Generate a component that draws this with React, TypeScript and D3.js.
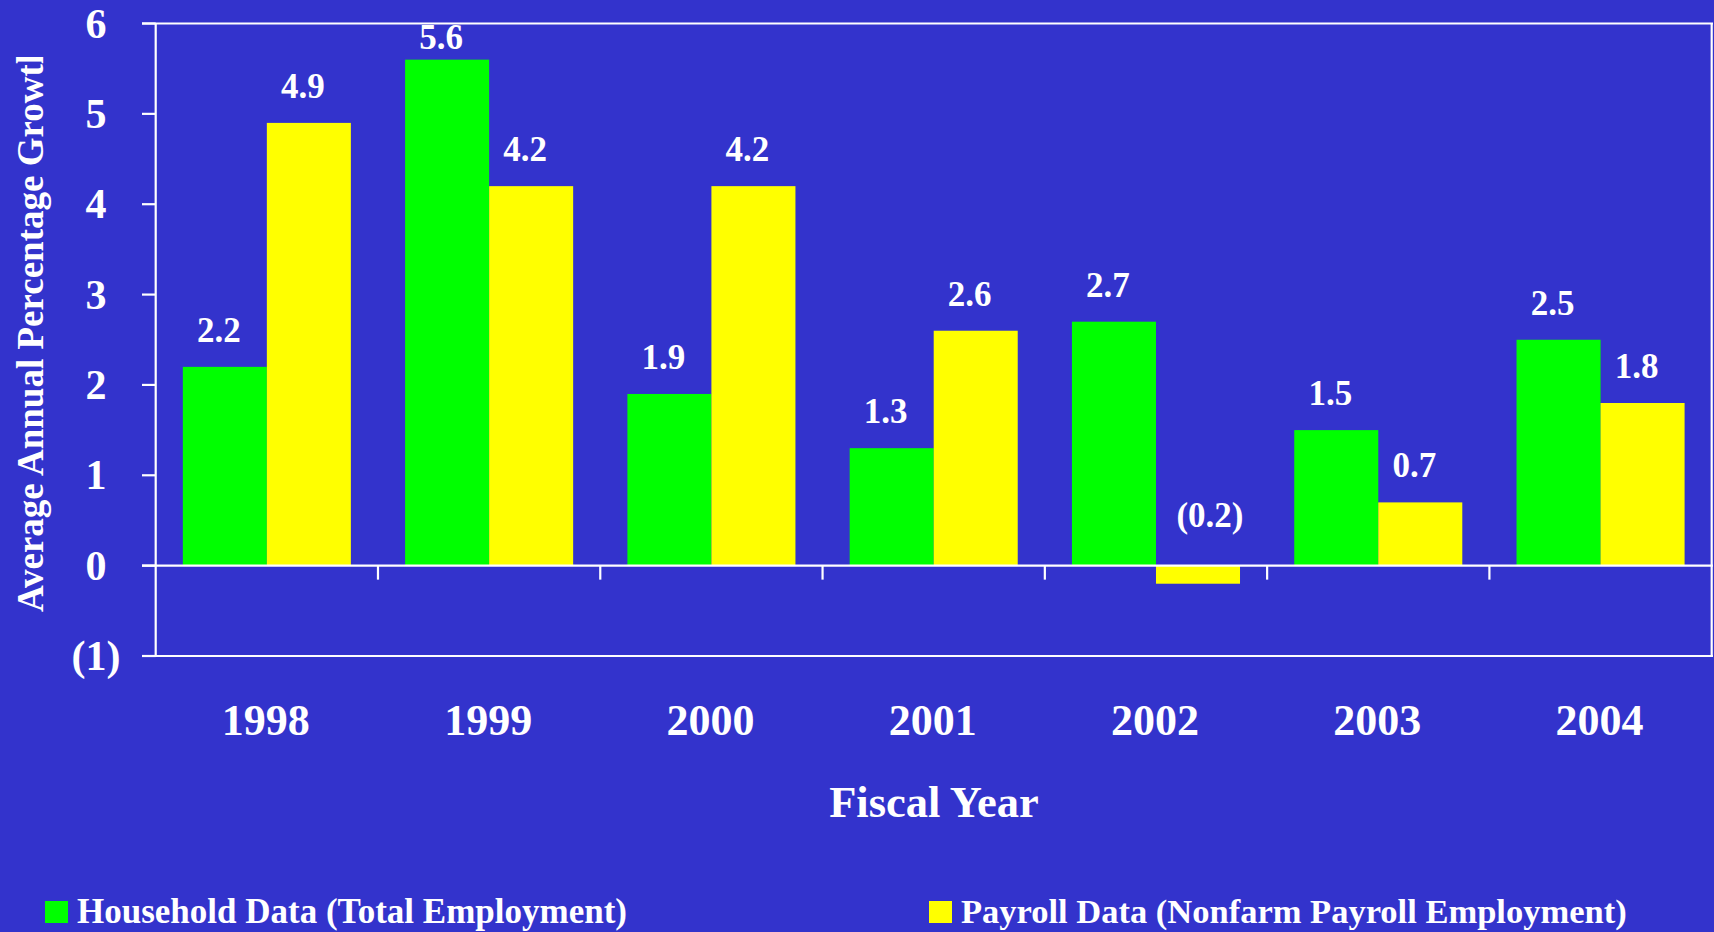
import React from "react";
import * as d3 from "d3";

const years = ["1998", "1999", "2000", "2001", "2002", "2003", "2004"];
const household = [2.2, 5.6, 1.9, 1.3, 2.7, 1.5, 2.5];
const payroll = [4.9, 4.2, 4.2, 2.6, -0.2, 0.7, 1.8];
const seriesNames = ["Household Data (Total Employment)", "Payroll Data (Nonfarm Payroll Employment)"];
const seriesColors = ["#00FF00", "#FFFF00"];
const yTicks = [-1, 0, 1, 2, 3, 4, 5, 6];

const W = 1714;
const H = 932;
const BG = "#3333CC";
const FONT = "'Liberation Serif', 'Times New Roman', Times, serif";

const fmtTick = (v: number) => (v < 0 ? `(${Math.abs(v)})` : `${v}`);
const fmtVal = (v: number) => (v < 0 ? `(${Math.abs(v).toFixed(1)})` : v.toFixed(1));

export default function App() {
  const left = 155.7;
  const right = 1711.7;
  const top = 23.5;
  const bottom = 656;

  const x = d3.scaleBand<string>().domain(years).range([left, right]).paddingInner(0.244).paddingOuter(0.122);
  const xs = d3.scaleBand<number>().domain([0, 1]).range([0, x.bandwidth()]);
  const y = d3.scaleLinear().domain([-1, 6]).range([bottom, top]);
  const y0 = y(0);

  const series = [household, payroll];
  const step = x.step();

  return (
    <svg width={W} height={H} style={{ position: "absolute", left: 0, top: 0, display: "block" }} fontFamily={FONT}>
      <defs>
        <clipPath id="ytitleclip">
          <rect x={0} y={57} width={80} height={700} />
        </clipPath>
      </defs>
      <rect x={0} y={0} width={W} height={H} fill={BG} />

      {/* bars */}
      {series.map((vals, si) =>
        vals.map((v, i) => {
          const bx = (x(years[i]) as number) + (xs(si) as number);
          const yt = y(Math.max(0, v));
          const yb = y(Math.min(0, v));
          return <rect key={`b${si}-${i}`} x={bx} y={yt} width={xs.bandwidth()} height={yb - yt} fill={seriesColors[si]} />;
        })
      )}

      {/* value labels */}
      {series.map((vals, si) =>
        vals.map((v, i) => {
          const cx = (x(years[i]) as number) + (xs(si) as number) + xs.bandwidth() / 2;
          const by = v >= 0 ? Math.max(y(v) - 25, top + 25) : y0 - 39;
          const dx = v >= 0 ? -6 : 12;
          return (
            <text key={`l${si}-${i}`} x={cx + dx} y={by} fill="#fff" fontSize={35} fontWeight="bold" textAnchor="middle">
              {fmtVal(v)}
            </text>
          );
        })
      )}

      {/* axes lines */}
      <g stroke="#fff" strokeWidth={2.2} fill="none">
        <line x1={142} x2={1713} y1={y(6)} y2={y(6)} />
        <line x1={142} x2={1713} y1={y(-1)} y2={y(-1)} />
        <line x1={142} x2={1713} y1={y0} y2={y0} />
        <line x1={left} x2={left} y1={top} y2={bottom} />
        <line x1={right} x2={right} y1={top} y2={bottom} />
        {yTicks.map((t) => (
          <line key={`yt${t}`} x1={142} x2={left} y1={y(t)} y2={y(t)} />
        ))}
        {years.slice(1).map((yr) => {
          const tx = (x(yr) as number) - (step - x.bandwidth()) / 2;
          return <line key={`xt${yr}`} x1={tx} x2={tx} y1={y0} y2={y0 + 14} />;
        })}
      </g>

      {/* y tick labels */}
      {yTicks.map((t) => (
        <text key={`ytl${t}`} x={96} y={y(t) + 14} fill="#fff" fontSize={42} fontWeight="bold" textAnchor="middle">
          {fmtTick(t)}
        </text>
      ))}

      {/* x tick labels */}
      {years.map((yr) => (
        <text key={`xl${yr}`} x={(x(yr) as number) + x.bandwidth() / 2 - 1} y={735} fill="#fff" fontSize={44} fontWeight="bold" textAnchor="middle">
          {yr}
        </text>
      ))}

      {/* axis titles */}
      <text x={934} y={817} fill="#fff" fontSize={44.5} fontWeight="bold" textAnchor="middle">
        Fiscal Year
      </text>
      <g clipPath="url(#ytitleclip)">
        <text transform="translate(43,612) rotate(-90)" fill="#fff" fontSize={37} fontWeight="bold" textAnchor="start">
          Average Annual Percentage Growth
        </text>
      </g>

      {/* legend */}
      <rect x={45} y={901} width={23} height={22} fill={seriesColors[0]} />
      <text x={77} y={923} fill="#fff" fontSize={35} fontWeight="bold">
        {seriesNames[0]}
      </text>
      <rect x={929} y={901} width={23} height={22} fill={seriesColors[1]} />
      <text x={961} y={923} fill="#fff" fontSize={34.5} fontWeight="bold">
        {seriesNames[1]}
      </text>
    </svg>
  );
}
